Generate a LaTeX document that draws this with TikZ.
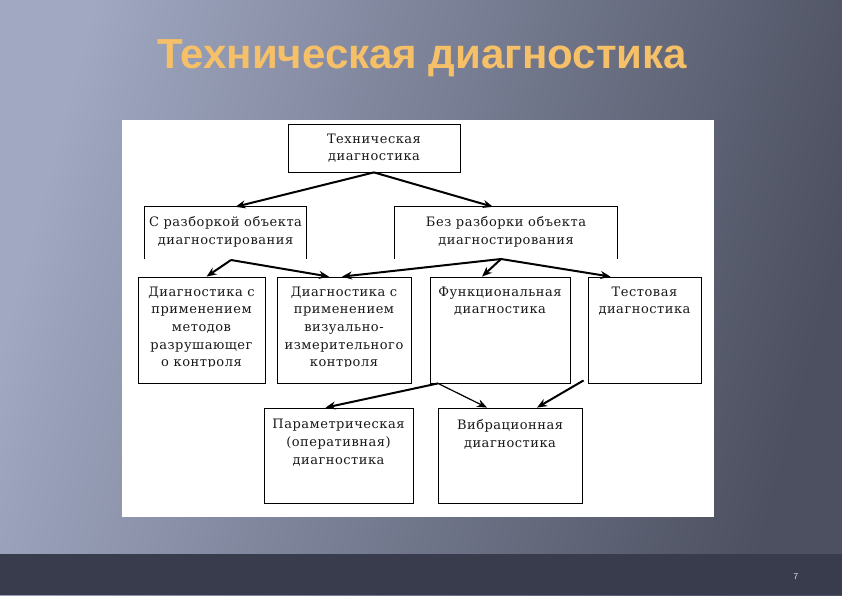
\documentclass[tikz,border=0pt]{standalone}
\usepackage{fontspec}
\setmainfont[LetterSpace=4]{DejaVu Serif}
\newfontfamily\titlefont{Liberation Sans}
\usetikzlibrary{arrows.meta}
\definecolor{bgL}{RGB}{160,168,194}
\definecolor{bgR}{RGB}{76,80,96}
\definecolor{band}{RGB}{56,60,76}
\definecolor{ttl}{RGB}{246,192,104}
\begin{document}
\begin{tikzpicture}[x=1pt,y=-1pt,
  box/.style={draw=black, line width=0.8pt, fill=white, inner sep=0pt},
  obox/.style={draw=none, inner sep=0pt},
  txt/.style={font=\fontsize{13}{17.7}\selectfont, align=center, text=black!90, inner sep=0pt, anchor=north},
  arr/.style={line width=2pt, -{Stealth[length=10pt,width=8pt]}},
  tarr/.style={line width=1.2pt, -{Stealth[length=10pt,width=8pt]}},
]
\useasboundingbox (0,0) rectangle (842,595);
\shade[left color=bgL, right color=bgR, shading angle=75] (0,0) rectangle (842,595);
\fill[band] (0,554) rectangle (842,595);
\fill[white] (122,120) rectangle (714,517);

\node[font=\titlefont\bfseries\fontsize{42}{48}\selectfont, text=ttl, anchor=base] (title) at (422,68) {Техническая диагностика};
\node[font=\sffamily\fontsize{9}{9}\selectfont, text=white!75!gray] (pg) at (796,577) {7};

% top
\node[box, minimum width=172pt, minimum height=48pt] (top) at (374,148) {};
\node[txt] (toptxt) at (374,133.5) {Техническая\\диагностика};

% level 2 (open boxes)
\node[obox, minimum width=161pt, minimum height=52pt] (wL) at (225.5,233) {};
\node[obox, minimum width=222pt, minimum height=52pt] (wR) at (506,233) {};
\draw[line width=0.8pt] (wL.south west) |- (wL.north east) -- (wL.south east);
\draw[line width=0.8pt] (wR.south west) |- (wR.north east) -- (wR.south east);
\node[txt] (wLtxt) at (225.5,216.5) {С разборкой объекта\\диагностирования};
\node[txt] (wRtxt) at (506,216.5) {Без разборки объекта\\диагностирования};

% level 3
\node[box, minimum width=127pt, minimum height=106pt] (A) at (201.5,330) {};
\node[box, minimum width=134pt, minimum height=106pt] (B) at (344,330) {};
\node[box, minimum width=140pt, minimum height=106pt] (C) at (500,330) {};
\node[box, minimum width=113pt, minimum height=106pt] (D) at (644.5,330) {};
\begin{scope}
\clip (122,277) rectangle (714,366);
\node[txt] (Atxt) at (201.5,286.5) {Диагностика с\\применением\\методов\\разрушающег\\о контроля};
\node[txt] (Btxt) at (344,286.5) {Диагностика с\\применением\\визуально-\\измерительного\\контроля};
\end{scope}
\node[txt] (Ctxt) at (500,286.5) {Функциональная\\диагностика};
\node[txt] (Dtxt) at (644.5,286.5) {Тестовая\\диагностика};

% level 4
\node[box, minimum width=149pt, minimum height=95pt] (E) at (338.5,455.5) {};
\node[box, minimum width=144pt, minimum height=95pt] (F) at (510,455.5) {};
\node[txt] (Etxt) at (338.5,419) {Параметрическая\\(оперативная)\\диагностика};
\node[txt] (Ftxt) at (510,419) {Вибрационная\\диагностика};

% junctions
\coordinate (jL) at (231,260);
\coordinate (jR) at (501,259);
\coordinate (jC) at ([xshift=-62pt]C.south);
\coordinate (jD) at ([xshift=-4pt,yshift=3pt]D.south west);

% connectors
\draw[arr] (top.south) -- ([xshift=10pt]wL.north);
\draw[arr] (top.south) -- ([xshift=-13pt]wR.north);
\draw[arr] (jL) -- ([xshift=5pt]A.north);
\draw[arr] (jL) -- ([xshift=-15pt]B.north);
\draw[arr] (jR) -- ([xshift=-2pt]B.north);
\draw[arr] (jR) -- ([xshift=-18pt]C.north);
\draw[arr] (jR) -- ([xshift=-34pt]D.north);
\draw[arr] (jC) -- ([xshift=-13pt]E.north);
\draw[tarr] (jC) -- ([xshift=-23pt]F.north);
\draw[arr] (jD) -- ([xshift=27pt]F.north);
\end{tikzpicture}
\end{document}
